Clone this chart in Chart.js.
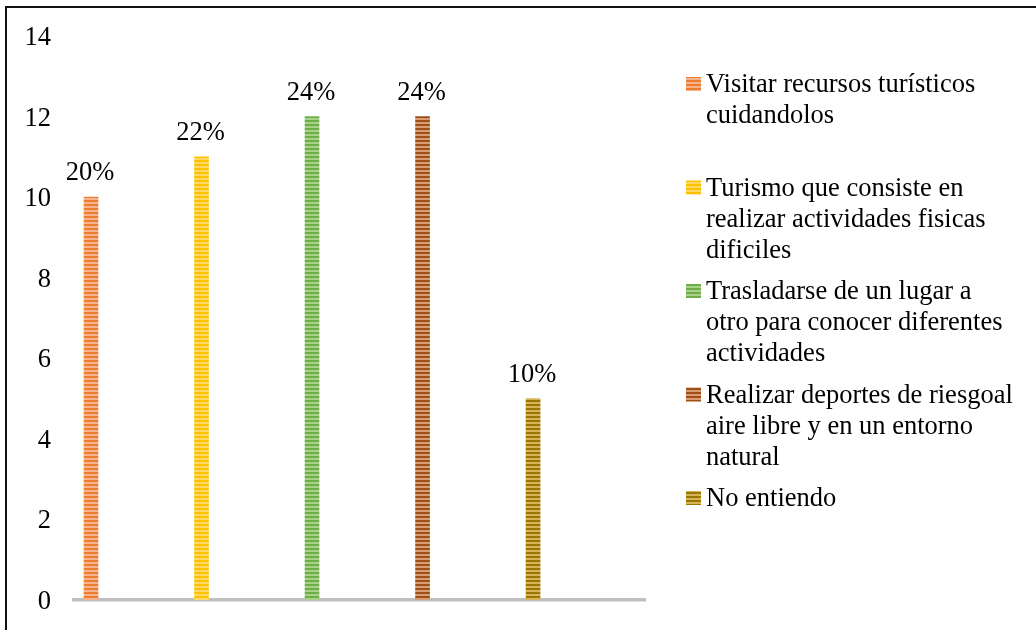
<!DOCTYPE html>
<html>
<head>
<meta charset="utf-8">
<script src="https://cdn.jsdelivr.net/npm/chart.js@4.4.1/dist/chart.umd.min.js"></script>
<style>
  html, body { margin: 0; padding: 0; background: #ffffff; }
  #wrap { position: relative; width: 1036px; height: 630px; overflow: hidden; }
  #c { position: absolute; left: 0; top: 0; }
  #frame { position: absolute; left: 5px; top: 6px; width: 1100px; height: 700px;
           border-left: 2px solid #111; border-top: 2px solid #111; pointer-events: none; }
</style>
</head>
<body>
<div id="wrap">
  <canvas id="c" width="1036" height="630"></canvas>
  <div id="frame"></div>
</div>
<script>
// ---- data ----
const seriesLabels = [
  ['Visitar recursos turísticos', 'cuidandolos'],
  ['Turismo que consiste en', 'realizar actividades fisicas', 'dificiles'],
  ['Trasladarse de un lugar a', 'otro para conocer diferentes', 'actividades'],
  ['Realizar deportes de riesgoal', 'aire libre y en un entorno', 'natural'],
  ['No entiendo']
];
const counts = [10, 11, 12, 12, 5];
const pctLabels = ['20%', '22%', '24%', '24%', '10%'];
const yTicks = [0, 2, 4, 6, 8, 10, 12, 14];

// ---- styles ----
const darkColors  = ['#ED7D31', '#FFC000', '#70AD47', '#A14E16', '#9C7604'];
const lightColors = ['#F6B48C', '#FFD966', '#A9D18E', '#D59C76', '#D4B657'];
const FONT = "'Times New Roman', 'Liberation Serif', serif";
const FSIZE = 26.5;

function stripes(dark, light) {
  const c = document.createElement('canvas');
  c.width = 4; c.height = 4;
  const g = c.getContext('2d');
  g.fillStyle = dark;  g.fillRect(0, 0, 4, 2);
  g.fillStyle = light; g.fillRect(0, 2, 4, 2);
  return g.createPattern(c, 'repeat');
}
const patterns = darkColors.map((d, i) => stripes(d, lightColors[i]));

const datasets = counts.map((v, i) => ({
  label: seriesLabels[i].join(' '),
  data: [{ x: i + 1, y: v }],
  backgroundColor: patterns[i],
  borderWidth: 0,
  barThickness: 14
}));

const pctPlugin = {
  id: 'pct',
  afterDatasetsDraw(chart) {
    const ctx = chart.ctx;
    ctx.save();
    ctx.font = FSIZE + 'px ' + FONT;
    ctx.fillStyle = '#000';
    ctx.textAlign = 'center';
    ctx.textBaseline = 'alphabetic';
    chart.data.datasets.forEach((ds, i) => {
      const el = chart.getDatasetMeta(i).data[0];
      ctx.fillText(pctLabels[i], el.x - 1, el.y - 17);
    });
    ctx.restore();
  }
};

const legendPlugin = {
  id: 'sideLegend',
  afterDraw(chart) {
    const ctx = chart.ctx;
    ctx.save();
    ctx.font = FSIZE + 'px ' + FONT;
    ctx.textAlign = 'left';
    ctx.textBaseline = 'alphabetic';
    seriesLabels.forEach((lines, i) => {
      const base = 92 + 103.5 * i;
      ctx.fillStyle = patterns[i];
      ctx.fillRect(686, base - 15, 15, 14);
      ctx.fillStyle = '#000';
      lines.forEach((t, k) => ctx.fillText(t, 706, base + 31 * k));
    });
    ctx.restore();
  }
};

new Chart(document.getElementById('c'), {
  type: 'bar',
  data: { datasets },
  plugins: [pctPlugin, legendPlugin],
  options: {
    responsive: false,
    animation: false,
    devicePixelRatio: 1,
    layout: { padding: { left: 0, right: 391, top: 36, bottom: 30 } },
    plugins: { legend: { display: false }, tooltip: { enabled: false } },
    datasets: { bar: { grouped: false } },
    scales: {
      x: {
        type: 'linear',
        offset: false,
        min: 0.846,
        max: 6.013,
        ticks: { display: false },
        grid: { display: false, drawTicks: false },
        border: { display: true, color: '#BFBFBF', width: 3.5 },
        afterFit(s) { s.height = 0; s.paddingLeft = 0; s.paddingRight = 0; }
      },
      y: {
        min: 0,
        max: 14,
        afterBuildTicks(s) { s.ticks = yTicks.map(v => ({ value: v })); },
        ticks: { color: '#000', padding: 23, labelOffset: 2, font: { family: FONT, size: FSIZE } },
        grid: { display: false, drawTicks: false },
        border: { display: false },
        afterFit(s) { s.width = 74; s.paddingTop = 0; s.paddingBottom = 0; }
      }
    }
  }
});
</script>
</body>
</html>
